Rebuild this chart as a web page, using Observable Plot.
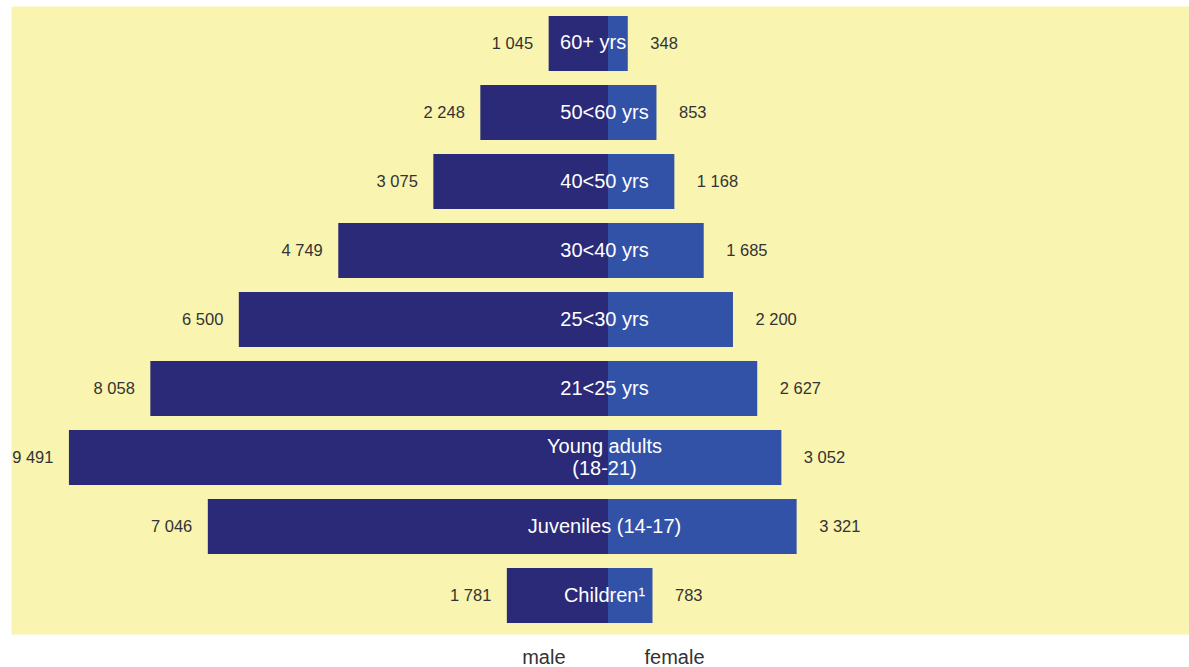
<!DOCTYPE html>
<html>
<head>
<meta charset="utf-8">
<script src="https://cdn.jsdelivr.net/npm/d3@7"></script>
<script src="https://cdn.jsdelivr.net/npm/@observablehq/plot@0.6"></script>
<style>
  html, body { margin: 0; padding: 0; background: #ffffff; }
  #chart svg { display: block; }
</style>
</head>
<body>
<div id="chart"></div>
<script>
const ageGroups = ["60+ yrs", "50<60 yrs", "40<50 yrs", "30<40 yrs", "25<30 yrs", "21<25 yrs", "Young adults\n(18-21)", "Juveniles (14-17)", "Children¹"];
const maleValues = [1045, 2248, 3075, 4749, 6500, 8058, 9491, 7046, 1781];
const femaleValues = [348, 853, 1168, 1685, 2200, 2627, 3052, 3321, 783];
const sexLabels = ["male", "female"];

const maleColor = "#2b2a78";
const femaleColor = "#3252a8";
const bgColor = "#f9f4b0";
const textColor = "#333333";

const rows = ageGroups.map((g, i) => ({group: g, male: maleValues[i], female: femaleValues[i]}));
const fmt = d3.formatLocale({decimal: ".", thousands: " ", grouping: [3], currency: ["", ""]}).format(",");

const chart = Plot.plot({
  width: 1189,
  height: 667,
  marginLeft: 11,
  marginRight: 0,
  marginTop: 6,
  marginBottom: 33,
  style: {fontFamily: "'Liberation Sans', Arial, sans-serif", background: "transparent"},
  x: {domain: [-10511, 10229], axis: null},
  y: {domain: ageGroups, axis: null, paddingInner: 0.2, paddingOuter: 0.1},
  marks: [
    Plot.frame({fill: bgColor, stroke: null}),
    Plot.barX(rows, {y: "group", x1: 0, x2: d => -d.male, fill: maleColor}),
    Plot.barX(rows, {y: "group", x1: 0, x2: "female", fill: femaleColor}),
    Plot.text(rows, {y: "group", x: d => -d.male, text: d => fmt(d.male), textAnchor: "end", dx: -16, fontSize: 16.5, fill: textColor}),
    Plot.text(rows, {y: "group", x: "female", text: d => fmt(d.female), textAnchor: "start", dx: 22, fontSize: 16.5, fill: textColor}),
    Plot.text(rows.filter(d => d.group !== ageGroups[0]), {y: "group", x: 0, text: "group", fill: "white", fontSize: 20, lineHeight: 1.1, dx: -4, dy: -1}),
    Plot.text(rows.filter(d => d.group === ageGroups[0]), {y: "group", x: "female", text: "group", fill: "white", fontSize: 20, textAnchor: "end", dx: -2, dy: -1}),
    Plot.text([sexLabels[0]], {x: 0, text: d => d, frameAnchor: "bottom", lineAnchor: "middle", textAnchor: "end", dx: -43, dy: 23, fontSize: 20, fill: textColor}),
    Plot.text([sexLabels[1]], {x: 0, text: d => d, frameAnchor: "bottom", lineAnchor: "middle", textAnchor: "start", dx: 36, dy: 23, fontSize: 20, fill: textColor})
  ]
});
document.getElementById("chart").appendChild(chart);
</script>
</body>
</html>
